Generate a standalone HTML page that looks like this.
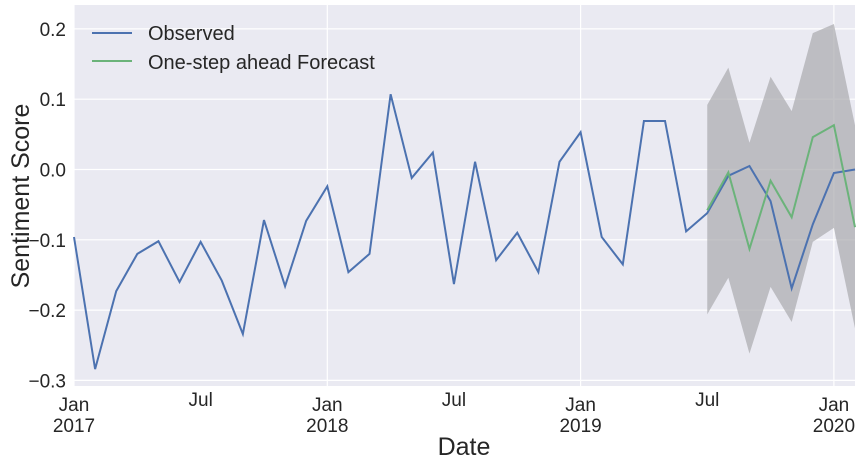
<!DOCTYPE html>
<html><head><meta charset="utf-8"><style>
body{margin:0;background:#fff;}
svg text{font-family:"Liberation Sans",Arial,sans-serif;fill:#262626;}
</style></head><body>
<svg id="chart" width="862" height="464" xmlns="http://www.w3.org/2000/svg">
<rect x="74" y="5" width="781" height="381" fill="#EAEAF2"/>
<g id="grid"></g><g id="band"></g><g id="lines"></g><g id="axes"></g>
<text x="464" y="455" font-size="25" text-anchor="middle">Date</text>
<text transform="translate(29,196) rotate(-90)" font-size="25" text-anchor="middle">Sentiment Score</text>
<g>
<line x1="92" y1="33" x2="132" y2="33" stroke="#4C72B0" stroke-width="2"/>
<text x="148" y="40" font-size="20">Observed</text>
<line x1="92" y1="61" x2="132" y2="61" stroke="#6BB37A" stroke-width="2"/>
<text x="148" y="69" font-size="20">One-step ahead Forecast</text>
</g>
</svg>
<script>
const observed=[-0.096,-0.284,-0.173,-0.12,-0.102,-0.16,-0.103,-0.158,-0.234,-0.072,-0.166,-0.073,-0.024,-0.146,-0.12,0.107,-0.012,0.024,-0.163,0.011,-0.129,-0.09,-0.146,0.011,0.053,-0.096,-0.135,0.069,0.069,-0.088,-0.062,-0.009,0.005,-0.045,-0.169,-0.078,-0.005,0.0];
const forecastStart=30;
const forecast=[-0.058,-0.004,-0.113,-0.016,-0.068,0.046,0.063,-0.082];
const upper=[0.092,0.145,0.038,0.132,0.083,0.194,0.207,0.063];
const lower=[-0.206,-0.154,-0.262,-0.167,-0.217,-0.103,-0.083,-0.226];
const yTicks=[0.2,0.1,0.0,-0.1,-0.2,-0.3];
const yTickLabels=["0.2","0.1","0.0","\u22120.1","\u22120.2","\u22120.3"];
const xTickMonths=[0,6,12,18,24,30,36];
const xTickLabels=["Jan","Jul","Jan","Jul","Jan","Jul","Jan"];
const xYearLabels=["2017","","2018","","2019","","2020"];
const NS="http://www.w3.org/2000/svg";
const x=m=>74+m*(781/37);
const y=v=>169.5-v*703;
function mk(tag,attrs,parent){const e=document.createElementNS(NS,tag);for(const k in attrs)e.setAttribute(k,attrs[k]);document.getElementById(parent).appendChild(e);return e;}
yTicks.forEach((v,i)=>{
  const l=mk('line',{x1:74,x2:855,y1:y(v),y2:y(v),stroke:'#fff','stroke-width':1.2},'grid');
  
  
  const t=mk('text',{x:66,y:y(v)+7,'font-size':19,'text-anchor':'end'},'axes');
  t.textContent=yTickLabels[i];
  
  
});
xTickMonths.forEach((m,i)=>{
  if(m%12===0){
    const l=mk('line',{x1:x(m),x2:x(m),y1:5,y2:386,stroke:'#fff','stroke-width':1.2},'grid');
    
    
  }
  const t=mk('text',{x:x(m),y:m%12===0?411:406,'font-size':19,'text-anchor':'middle'},'axes');
  t.textContent=xTickLabels[i];
  
  
  if(xYearLabels[i]){
    const t2=mk('text',{x:x(m),y:432,'font-size':19,'text-anchor':'middle'},'axes');
    t2.textContent=xYearLabels[i];
    
    
  }
});
let pts=upper.map((v,i)=>x(forecastStart+i)+','+y(v));
pts=pts.concat(lower.map((v,i)=>x(forecastStart+i)+','+y(v)).reverse());
const band=mk('polygon',{points:pts.join(' '),fill:'#A9A9AE',opacity:0.7},'band');


const obs=mk('polyline',{points:observed.map((v,i)=>x(i)+','+y(v)).join(' '),fill:'none',stroke:'#4C72B0','stroke-width':2},'lines');


const fc=mk('polyline',{points:forecast.map((v,i)=>x(forecastStart+i)+','+y(v)).join(' '),fill:'none',stroke:'#6BB37A','stroke-width':2},'lines');


</script>
</body></html>
